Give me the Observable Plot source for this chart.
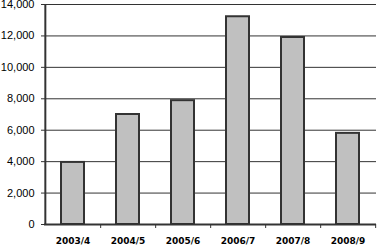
<!DOCTYPE html>
<html>
<head>
<meta charset="utf-8">
<script src="https://cdn.jsdelivr.net/npm/d3@7"></script>
<script src="https://cdn.jsdelivr.net/npm/@observablehq/plot@0.6"></script>
<style>
  html, body { margin: 0; padding: 0; background: #fff; }
</style>
</head>
<body>
<div id="chart"></div>
<script>
const categories = ["2003/4", "2004/5", "2005/6", "2006/7", "2007/8", "2008/9"];
const values = [3950, 7000, 7880, 13220, 11900, 5800];
const yTicks = [0, 2000, 4000, 6000, 8000, 10000, 12000, 14000];

const data = categories.map((c, i) => ({category: c, value: values[i]}));

const W = 377, H = 246, ML = 44, MR = 1;
const step = (W - ML - MR) / categories.length;

const chart = Plot.plot({
  width: W,
  height: H,
  marginLeft: ML,
  marginRight: MR,
  marginTop: 4,
  marginBottom: 22,
  style: {background: "#fff", fontFamily: "'Liberation Sans', Arial, sans-serif"},
  x: {domain: categories, paddingInner: 0.58, paddingOuter: 0.29, label: null},
  y: {domain: [0, 14000], label: null},
  marks: [
    Plot.gridY(yTicks, {stroke: "#333", strokeOpacity: 1, strokeWidth: 1}),
    Plot.barY(data, {x: "category", y: "value", fill: "#c0c0c0", stroke: "#333", strokeWidth: 2}),
    Plot.axisY(yTicks, {tickFormat: d3.format(","), tickSize: 3, tickPadding: 7, fontSize: 11, fill: "#000", stroke: "#333", label: null}),
    Plot.axisX({tickSize: 4, dx: step / 2, text: null, stroke: "#333"}),
    Plot.axisX({tickSize: 0, tickPadding: 13, fontSize: 9, fontWeight: "bold", fontFamily: "'DejaVu Sans', Verdana, sans-serif", fill: "#000", label: null}),
    Plot.ruleY([0], {stroke: "#333", strokeWidth: 2}),
    Plot.ruleX([categories[0]], {dx: -step / 2, y1: 0, y2: 14000, stroke: "#333", strokeWidth: 2})
  ]
});
document.getElementById("chart").appendChild(chart);
</script>
</body>
</html>
